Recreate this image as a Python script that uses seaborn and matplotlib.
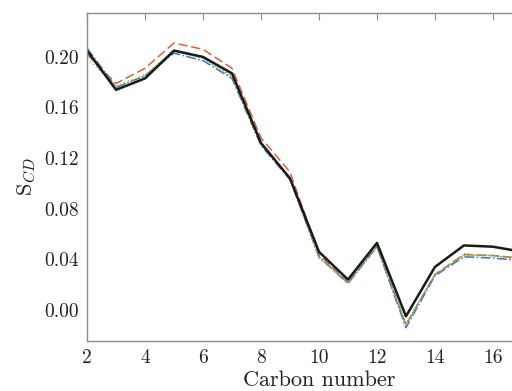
import numpy as np
import pandas as pd
import seaborn as sns
import matplotlib
matplotlib.use('Agg')
import matplotlib.pyplot as plt

carbon = [2, 3, 4, 5, 6, 7, 8, 9, 10, 11, 12, 13, 14, 15, 16, 17, 18]

# experiment (black) and simulated force fields
s_exp = [0.205, 0.174, 0.183, 0.205, 0.200, 0.187, 0.132, 0.104, 0.046, 0.024, 0.053, -0.005, 0.034, 0.051, 0.050, 0.046, 0.042]
s_red = [0.202, 0.179, 0.191, 0.211, 0.206, 0.191, 0.136, 0.109, 0.044, 0.022, 0.051, -0.012, 0.028, 0.044, 0.043, 0.041, 0.038]
s_blue = [0.207, 0.176, 0.185, 0.203, 0.197, 0.183, 0.130, 0.103, 0.042, 0.021, 0.050, -0.014, 0.027, 0.042, 0.041, 0.039, 0.036]
s_yellow = [0.199, 0.177, 0.186, 0.205, 0.200, 0.185, 0.132, 0.104, 0.041, 0.022, 0.050, -0.012, 0.028, 0.044, 0.043, 0.040, 0.037]
s_green = [0.204, 0.176, 0.185, 0.205, 0.199, 0.184, 0.131, 0.104, 0.042, 0.021, 0.050, -0.011, 0.028, 0.043, 0.043, 0.040, 0.037]

sns.set_style('white')
plt.rcParams['font.family'] = ['serif']
plt.rcParams['font.serif'] = ['cmr10', 'DejaVu Serif']
plt.rcParams['mathtext.fontset'] = 'cm'
plt.rcParams['axes.formatter.use_mathtext'] = True

fig = plt.figure(figsize=(5.12, 3.91), dpi=100)
ax = fig.add_axes([0.170, 0.128, 0.906, 0.839])

sns.lineplot(x=carbon, y=s_red, ax=ax, color='#d8613f', lw=1.1)
ax.lines[-1].set_dashes([6, 2.5])
sns.lineplot(x=carbon, y=s_blue, ax=ax, color='#4c72b0', lw=1.1)
ax.lines[-1].set_linestyle('-.')
sns.lineplot(x=carbon, y=s_yellow, ax=ax, color='#d9b24a', lw=1.1)
ax.lines[-1].set_linestyle(':')
sns.lineplot(x=carbon, y=s_green, ax=ax, color='#55a868', lw=1.1)
ax.lines[-1].set_linestyle((0, (1, 1)))
sns.lineplot(x=carbon, y=s_exp, ax=ax, color='#1a1a1a', lw=1.8)

ax.set_xlim(2, 18)
ax.set_ylim(-0.0245, 0.2348)
xt = [2, 4, 6, 8, 10, 12, 14, 16]
ax.set_xticks(xt)
ax.set_xticklabels([str(t) for t in xt])
ax.set_yticks([0.00, 0.04, 0.08, 0.12, 0.16, 0.20])
ax.set_yticklabels(['0.00', '0.04', '0.08', '0.12', '0.16', '0.20'])

for s in ax.spines.values():
    s.set_color('#8c8c8c')
    s.set_linewidth(1.0)
ax.tick_params(direction='in', length=5, width=0.8, color='#8c8c8c',
               labelsize=14, labelcolor='#222222', top=True, right=True, pad=6)

ax.set_xlabel('Carbon number', fontsize=16, color='#222222', labelpad=2)
ax.set_ylabel(r'S$_{CD}$', fontsize=16, color='#222222', labelpad=4)

fig.savefig('out.png', dpi=100)
